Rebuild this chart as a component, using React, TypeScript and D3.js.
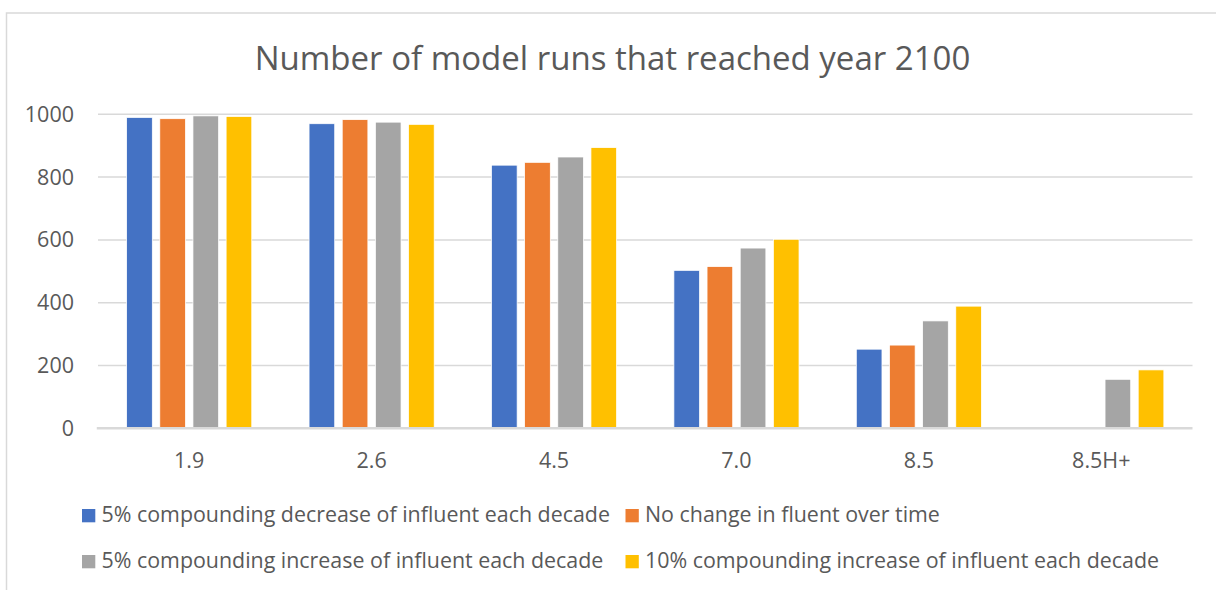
import React from 'react';
import * as d3 from 'd3';

const categories = ['1.9', '2.6', '4.5', '7.0', '8.5', '8.5H+'];
const seriesNames = [
  '5% compounding decrease of influent each decade',
  'No change in fluent over time',
  '5% compounding increase of influent each decade',
  '10% compounding increase of influent each decade',
];
const colors = ['#4472C4', '#ED7D31', '#A5A5A5', '#FFC000'];
const decrease5 = [990, 970, 838, 503, 252, 0];
const noChange = [986, 983, 847, 515, 265, 0];
const increase5 = [995, 975, 864, 574, 342, 156];
const increase10 = [993, 968, 894, 602, 389, 186];
const yTicks = [0, 200, 400, 600, 800, 1000];

const series = [decrease5, noChange, increase5, increase10];

const W = 1216;
const H = 590;
const textColor = '#595959';
const gridColor = '#D9D9D9';
const font = "'Open Sans', sans-serif";

export default function App() {
  const x = d3.scaleBand<string>().domain(categories).range([98, 1192.5]).padding(0);
  const bw = x.bandwidth();
  const inner = d3
    .scaleBand<number>()
    .domain(d3.range(series.length))
    .range([bw * 0.157, bw * 0.843])
    .paddingInner(0.226);
  const y = d3.scaleLinear().domain([0, 1000]).range([428.3, 114.3]);

  // legend: two rows, two columns
  const legendCols = [82, 625.5];
  const legendRows = [522.3, 568.3];

  return (
    <svg
      width={W}
      height={H}
      style={{ position: 'absolute', left: 0, top: 0, background: '#fff' }}
      fontFamily={font}
    >
      <rect x={6.5} y={13} width={W} height={H} fill="#fff" stroke={gridColor} strokeWidth={1.5} />

      <text x={612.5} y={70} textAnchor="middle" fontSize={33} fill={textColor}>
        Number of model runs that reached year 2100
      </text>

      {yTicks.filter((t) => t > 0).map((t) => (
        <line key={t} x1={98} x2={1192.5} y1={y(t)} y2={y(t)} stroke={gridColor} strokeWidth={1.5} />
      ))}

      {yTicks.map((t) => (
        <text key={t} x={74} y={y(t) + 7.5} textAnchor="end" fontSize={21.5} fill={textColor}>
          {t}
        </text>
      ))}

      {categories.map((c, ci) =>
        series.map((s, si) =>
          s[ci] > 0 ? (
            <rect
              key={c + si}
              x={(x(c) as number) + (inner(si) as number)}
              y={y(s[ci])}
              width={inner.bandwidth()}
              height={y(0) - y(s[ci])}
              fill={colors[si]}
              stroke="#fff"
              strokeWidth={0.75}
            />
          ) : null
        )
      )}

      <line x1={96.8} x2={1192.5} y1={y(0)} y2={y(0)} stroke={gridColor} strokeWidth={2.5} />

      {categories.map((c) => (
        <text key={c} x={(x(c) as number) + bw / 2} y={468.3} textAnchor="middle" fontSize={21.5} fill={textColor}>
          {c}
        </text>
      ))}

      {seriesNames.map((name, i) => {
        const lx = legendCols[i % 2];
        const ly = legendRows[Math.floor(i / 2)];
        return (
          <g key={name}>
            <rect x={lx} y={ly - 13.3} width={13.3} height={13.3} fill={colors[i]} />
            <text x={lx + 19.5} y={ly} fontSize={21.4} fill={textColor}>
              {name}
            </text>
          </g>
        );
      })}
    </svg>
  );
}
